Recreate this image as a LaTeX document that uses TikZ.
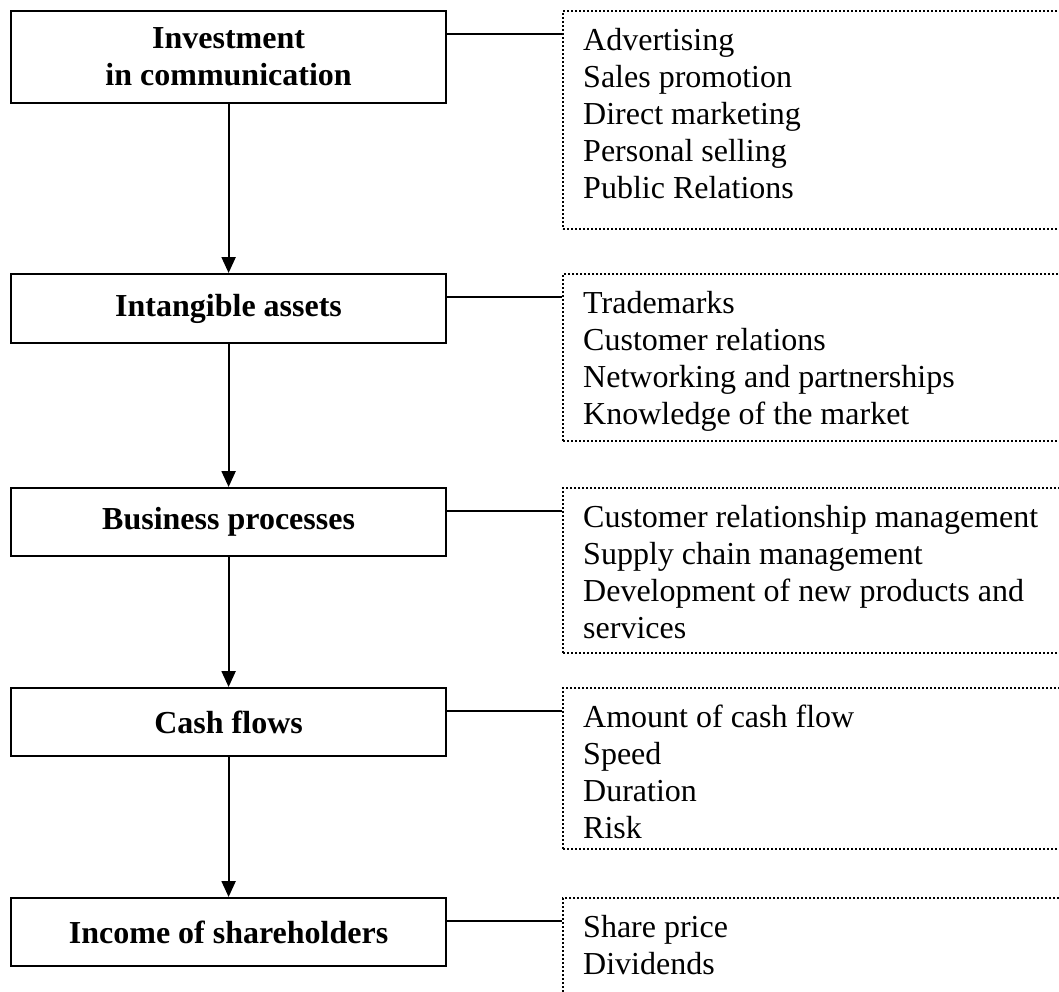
\documentclass[tikz,border=0pt]{standalone}
\usepackage{fontspec}
\setmainfont{Liberation Serif}
\usetikzlibrary{arrows.meta}
\begin{document}
\begin{tikzpicture}[x=1pt,y=-1pt,
  mainbox/.style={draw, line width=2.2pt, minimum width=435pt, align=center,
    font=\fontsize{32}{37}\selectfont\bfseries, anchor=north west, inner sep=0pt},
  listbox/.style={draw, line width=2pt, dash pattern=on 2pt off 2pt,
    minimum width=560pt, anchor=north west, inner sep=0pt},
  listtext/.style={anchor=north west, align=left, inner sep=0pt,
    font=\fontsize{32}{37}\selectfont},
  link/.style={line width=2.2pt},
  arr/.style={line width=2.2pt, -{Triangle[length=16pt,width=14pt]}}
]
\useasboundingbox (0,0) rectangle (1059,991);

% main boxes
\node[mainbox, minimum height=92pt] (b1) at (10,10) {Investment\\in communication};
\node[mainbox, minimum height=69pt] (b2) at (10,273) {Intangible assets};
\node[mainbox, minimum height=68pt] (b3) at (10,487) {Business processes};
\node[mainbox, minimum height=68pt] (b4) at (10,687) {Cash flows};
\node[mainbox, minimum height=68pt] (b5) at (10,897) {Income of shareholders};

% dotted boxes
\node[listbox, minimum height=218pt] (l1) at (562,10) {};
\node[listbox, minimum height=167pt] (l2) at (562,273) {};
\node[listbox, minimum height=165pt] (l3) at (562,487) {};
\node[listbox, minimum height=161pt] (l4) at (562,687) {};
\node[listbox, minimum height=140pt] (l5) at (562,897) {};

% list texts
\node[listtext] (t1) at (583,28) {Advertising\\Sales promotion\\Direct marketing\\Personal selling\\Public Relations};
\node[listtext] (t2) at (583,291) {Trademarks\\Customer relations\\Networking and partnerships\\Knowledge of the market};
\node[listtext] (t3) at (583,505) {Customer relationship management\\Supply chain management\\Development of new products and\\services};
\node[listtext] (t4) at (583,705) {Amount of cash flow\\Speed\\Duration\\Risk};
\node[listtext] (t5) at (583,915) {Share price\\Dividends};

% links
\foreach \i in {1,...,5}{
  \draw[link] ([yshift=-24pt]b\i.north east) -- ([yshift=-24pt]l\i.north west);
}

% arrows
\draw[arr] (b1.south) -- (b2.north);
\draw[arr] (b2.south) -- (b3.north);
\draw[arr] (b3.south) -- (b4.north);
\draw[arr] (b4.south) -- (b5.north);
\end{tikzpicture}
\end{document}
